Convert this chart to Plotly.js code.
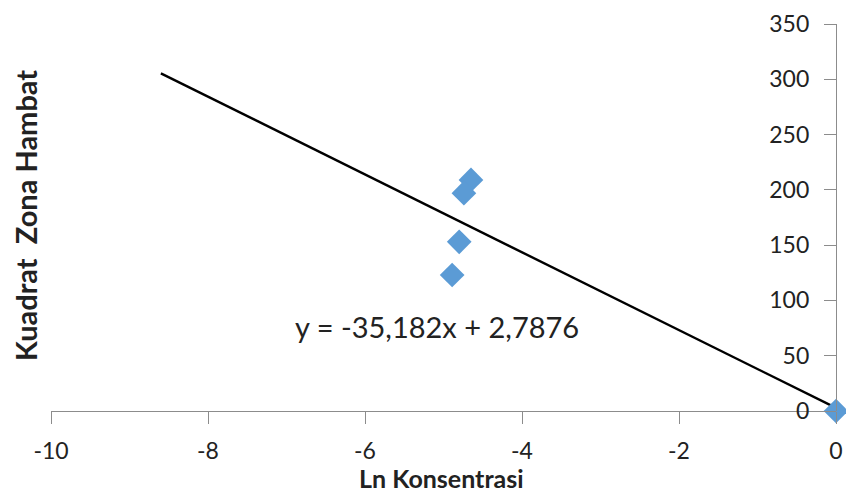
<!DOCTYPE html>
<html><head><meta charset="utf-8">
<script src="https://cdn.plot.ly/plotly-3.0.1.min.js"></script>
<style>html,body{margin:0;padding:0;background:#fff}#c{width:846px;height:493px}</style>
</head><body><div id="c"></div>
<script>
const lnKonsentrasi = [-4.65, -4.74, -4.80, -4.89, 0];
const kuadratZona = [209, 197, 153, 123, 0];
const trendX = [-8.6, 0];
const trendY = [305.4, 2.79];
const xTicks = [-10, -8, -6, -4, -2, 0];
const yTicks = [0, 50, 100, 150, 200, 250, 300, 350];
const equation = "y = -35,182x + 2,7876";

const font = "Lato, 'Open Sans', sans-serif";
const data = [
  {x: trendX, y: trendY, mode: 'lines', line: {color: '#000', width: 2.4}, hoverinfo: 'skip', cliponaxis: false},
  {x: lnKonsentrasi, y: kuadratZona, mode: 'markers', cliponaxis: false,
   marker: {symbol: 'diamond', size: 19, color: '#5B9BD5'}}
];
const layout = {
  width: 846, height: 493, showlegend: false,
  margin: {l: 51, r: 10, t: 24, b: 82},
  paper_bgcolor: '#fff', plot_bgcolor: '#fff',
  font: {family: font, size: 23, color: '#222'},
  xaxis: {range: [-10, 0], tickvals: xTicks, ticktext: xTicks.map(String),
    showgrid: false, zeroline: false, showline: true, linecolor: '#8c8c8c', linewidth: 1.3,
    ticks: 'outside', ticklen: 12, tickcolor: '#8c8c8c', tickwidth: 1.3,
    ticklabelstandoff: 7, ticklabeloverflow: 'allow',
    tickfont: {size: 23, family: font, color: '#222'}},
  yaxis: {range: [0, 350], tickvals: yTicks, side: 'left', anchor: 'free', position: 1,
    showgrid: false, zeroline: false, showline: true, linecolor: '#8c8c8c', linewidth: 1.3,
    ticks: 'outside', ticklen: 12, tickcolor: '#8c8c8c', tickwidth: 1.3,
    ticklabelstandoff: 10, ticklabeloverflow: 'allow',
    tickfont: {size: 23, family: font, color: '#222'}},
  annotations: [
    {text: equation, x: -6.92, y: 76, xref: 'x', yref: 'y', xanchor: 'left', yanchor: 'middle',
     showarrow: false, font: {size: 29, family: font, color: '#222'}},
    {text: '<b>Ln Konsentrasi</b>', x: (441 - 51) / 785, y: (411 - 478) / 387, xref: 'paper', yref: 'paper', showarrow: false,
     xanchor: 'center', yanchor: 'middle', font: {size: 25, family: font, color: '#222'}},
    {text: '<b>Kuadrat  Zona Hambat</b>', x: (25 - 51) / 785, y: (411 - 216) / 387, xref: 'paper', yref: 'paper',
     showarrow: false, textangle: -90,
     xanchor: 'center', yanchor: 'middle', font: {size: 29, family: font, color: '#222'}}
  ]
};
Plotly.newPlot('c', data, layout, {displayModeBar: false});
</script></body></html>
